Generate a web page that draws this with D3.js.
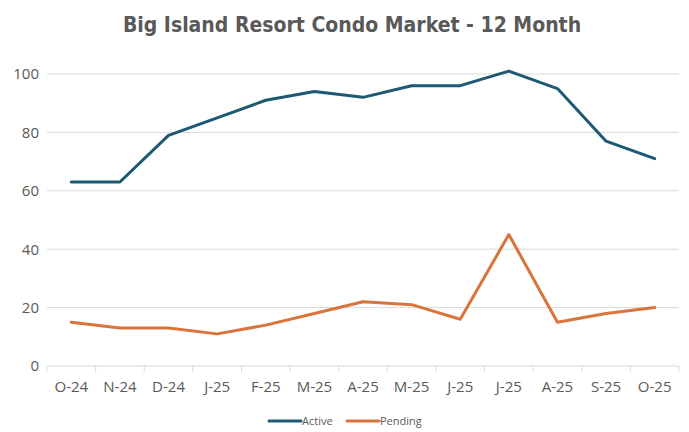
<!DOCTYPE html>
<html>
<head>
<meta charset="utf-8">
<script src="https://cdn.jsdelivr.net/npm/d3@7"></script>
<style>
  body { margin: 0; background: #fff; }
  svg { display: block; }
</style>
</head>
<body>
<svg></svg>
<script>
const width = 689, height = 432

const months = ['O-24','N-24','D-24','J-25','F-25','M-25','A-25','M-25','J-25','J-25','A-25','S-25','O-25']
const active = [63, 63, 79, 85, 91, 94, 92, 96, 96, 101, 95, 77, 71]
const pending = [15, 13, 13, 11, 14, 18, 22, 21, 16, 45, 15, 18, 20]
const yTicks = [0, 20, 40, 60, 80, 100]

const seriesNames = ['Active', 'Pending']
const colors = ['#1d5874', '#d8743c']

const svg = d3.select('svg').attr('width', width).attr('height', height)

const margin = { top: 74, bottom: 66, left: 47, right: 10 }
const innerWidth = width - margin.left - margin.right
const innerHeight = height - margin.top - margin.bottom

const g = svg.append('g')
  .attr('transform', `translate(${margin.left},${margin.top})`)

// band positions, use index so duplicate labels stay separate
const xScale = d3.scaleBand()
  .domain(d3.range(months.length))
  .range([0, innerWidth])

const yScale = d3.scaleLinear()
  .domain([0, 100])
  .range([innerHeight, 0])

// gridlines
g.append('g')
  .selectAll('line')
  .data(yTicks.filter(d => d > 0))
  .enter().append('line')
  .attr('x1', 0).attr('x2', innerWidth)
  .attr('y1', d => yScale(d)).attr('y2', d => yScale(d))
  .attr('stroke', '#d9d9d9').attr('stroke-width', 1)

// y labels
const yAxis = d3.axisLeft(yScale).tickValues(yTicks).tickSize(0).tickPadding(8)
const yAxisG = g.append('g').call(yAxis)
yAxisG.select('.domain').remove()
yAxisG.selectAll('text')
  .attr('fill', '#595959')
  .style('font-family', '"Open Sans", sans-serif')
  .style('font-size', '15px')

// x axis with ticks at band edges
g.append('line')
  .attr('x1', 0).attr('x2', innerWidth)
  .attr('y1', innerHeight).attr('y2', innerHeight)
  .attr('stroke', '#d9d9d9')
g.append('g')
  .selectAll('line')
  .data(d3.range(months.length + 1))
  .enter().append('line')
  .attr('x1', d => d * xScale.bandwidth()).attr('x2', d => d * xScale.bandwidth())
  .attr('y1', innerHeight).attr('y2', innerHeight + 6)
  .attr('stroke', '#d9d9d9')

g.append('g')
  .selectAll('text')
  .data(months)
  .enter().append('text')
  .attr('x', (d, i) => xScale(i) + xScale.bandwidth() / 2)
  .attr('y', innerHeight + 26)
  .attr('text-anchor', 'middle')
  .attr('fill', '#595959')
  .style('font-family', '"Open Sans", sans-serif')
  .style('font-size', '15px')
  .text(d => d)

// lines
const line = d3.line()
  .x((d, i) => xScale(i) + xScale.bandwidth() / 2)
  .y(d => yScale(d))

;[active, pending].forEach((vals, k) => {
  g.append('path')
    .datum(vals)
    .attr('fill', 'none')
    .attr('stroke', colors[k])
    .attr('stroke-width', 3)
    .attr('stroke-linejoin', 'round')
    .attr('stroke-linecap', 'round')
    .attr('d', line)
})

// title
svg.append('text')
  .attr('x', 352).attr('y', 32)
  .attr('text-anchor', 'middle')
  .attr('fill', '#595959')
  .style('font-family', '"Liberation Sans Narrow", "DejaVu Sans Condensed", sans-serif')
  .style('font-weight', 'bold')
  .style('font-size', '21px')
  .text('Big Island Resort Condo Market - 12 Month')

// legend
const legendX = [269, 347]
const legend = svg.append('g')
seriesNames.forEach((name, k) => {
  legend.append('line')
    .attr('x1', legendX[k]).attr('x2', legendX[k] + 32)
    .attr('y1', 421).attr('y2', 421)
    .attr('stroke', colors[k]).attr('stroke-width', 3)
    .attr('stroke-linecap', 'round')
  legend.append('text')
    .attr('x', legendX[k] + 33).attr('y', 425)
    .attr('fill', '#595959')
    .style('font-family', '"Open Sans", sans-serif')
    .style('font-size', '11px')
    .text(name)
})
</script>
</body>
</html>
